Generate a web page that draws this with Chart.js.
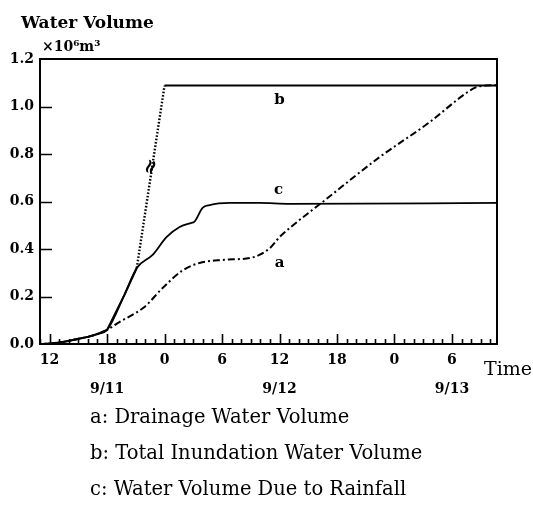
<!DOCTYPE html>
<html>
<head>
<meta charset="utf-8">
<script src="https://cdn.jsdelivr.net/npm/chart.js@4.4.1/dist/chart.umd.min.js"></script>
<style>
  html, body { margin: 0; padding: 0; background: #fff; }
  #wrap { width: 533px; height: 507px; }
</style>
</head>
<body>
<div id="wrap"><canvas id="chart" width="533" height="507"></canvas></div>
<script>
// hours counted from 9/11 0:00
const xTicks = [12, 18, 24, 30, 36, 42, 48, 54];
const xTickLabels = ['12', '18', '0', '6', '12', '18', '0', '6'];
const dateLabels = ['', '9/11', '', '', '9/12', '', '', '9/13'];
const yTicks = [0, 0.2, 0.4, 0.6, 0.8, 1.0, 1.2];

// a: Drainage Water Volume
const drainageHours = [11.3, 12, 13, 14, 15, 16, 17, 18, 19.1, 21.9, 23.8, 25.9, 27.65, 30.05, 32.9, 33.9, 35, 36, 37.05, 40.5, 46.45, 51.7, 55.5, 56.6, 57.6, 58.7];
const drainageVolume = [0, 0.002, 0.006, 0.013, 0.022, 0.03, 0.042, 0.059, 0.088, 0.156, 0.236, 0.31, 0.341, 0.354, 0.362, 0.375, 0.404, 0.45, 0.488, 0.598, 0.787, 0.935, 1.057, 1.082, 1.088, 1.09];

// b: Total Inundation Water Volume
const totalHours = [11.3, 12, 13, 14, 15, 16, 17, 18, 19.8, 21.1, 24.0, 58.7];
const totalVolume = [0, 0.002, 0.006, 0.013, 0.022, 0.03, 0.042, 0.059, 0.206, 0.32, 1.088, 1.088];

// c: Water Volume Due to Rainfall
const rainHours = [11.3, 12, 13, 14, 15, 16, 17, 18, 19.8, 21.1, 22.75, 24.2, 25.57, 26.8, 27.1, 27.97, 28.7, 30.8, 33.9, 37.05, 58.7];
const rainVolume = [0, 0.002, 0.006, 0.013, 0.022, 0.03, 0.042, 0.059, 0.206, 0.32, 0.375, 0.45, 0.493, 0.51, 0.514, 0.573, 0.585, 0.594, 0.594, 0.59, 0.594];

const curveLabels = [
    { text: 'b', x: 36, y: 1.027 },
    { text: 'c', x: 35.9, y: 0.648 },
    { text: 'a', x: 36, y: 0.341 }
];
const legendLines = [
    'a: Drainage Water Volume',
    'b: Total Inundation Water Volume',
    'c: Water Volume Due to Rainfall'
];

const serif = '"DejaVu Serif", "Liberation Serif", serif';

function points(xs, ys) {
    return xs.map((x, i) => ({ x: x, y: ys[i] }));
}

// frame, inward ticks and the texts around the plot
const decorations = {
    id: 'decorations',
    afterDraw(chart) {
        const ctx = chart.ctx;
        const a = chart.chartArea;
        const xs = chart.scales.x;
        const ys = chart.scales.y;
        ctx.save();
        ctx.strokeStyle = '#000';
        ctx.fillStyle = '#000';
        ctx.lineWidth = 2;
        ctx.strokeRect(a.left, a.top, a.right - a.left, a.bottom - a.top);

        ctx.lineWidth = 1.6;
        ctx.beginPath();
        yTicks.forEach(v => {
            if (v <= 0 || v >= 1.2) return;
            const py = Math.round(ys.getPixelForValue(v)) + 0.5;
            ctx.moveTo(a.left, py);
            ctx.lineTo(a.left + 12, py);
        });
        for (let h = Math.ceil(xs.min); h <= Math.floor(xs.max); h++) {
            const px = Math.round(xs.getPixelForValue(h)) + 0.5;
            const len = h % 6 === 0 ? 10 : 5;
            ctx.moveTo(px, a.bottom);
            ctx.lineTo(px, a.bottom - len);
        }
        ctx.stroke();

        ctx.textBaseline = 'middle';
        ctx.textAlign = 'left';
        ctx.font = 'bold 17px ' + serif;
        ctx.fillText('Water Volume', 21, 24);
        ctx.font = 'bold 14px ' + serif;
        ctx.fillText('×10⁶m³', 42, 47);
        ctx.font = '19px ' + serif;
        ctx.fillText('Time', 484, 370);

        ctx.textAlign = 'center';
        ctx.font = 'bold 15px ' + serif;
        curveLabels.forEach(l => {
            ctx.fillText(l.text, xs.getPixelForValue(l.x), ys.getPixelForValue(l.y));
        });

        // break mark on the steep part of b
        ctx.save();
        ctx.translate(xs.getPixelForValue(22.65), ys.getPixelForValue(0.745));
        ctx.rotate(-Math.PI * 0.4);
        ctx.font = 'bold 20px ' + serif;
        ctx.fillText('≈', 0, 0);
        ctx.restore();

        ctx.textAlign = 'left';
        ctx.font = '19.5px ' + serif;
        legendLines.forEach((t, i) => {
            ctx.fillText(t, 90, 418 + i * 36);
        });
        ctx.restore();
    }
};

new Chart(document.getElementById('chart'), {
    type: 'line',
    data: {
        datasets: [
            {
                label: 'a',
                data: points(drainageHours, drainageVolume),
                borderColor: '#000',
                borderWidth: 2,
                borderDash: [7, 3, 2, 3],
                cubicInterpolationMode: 'monotone',
                pointRadius: 0
            },
            {
                label: 'b',
                data: points(totalHours, totalVolume),
                borderColor: '#000',
                borderWidth: 2,
                tension: 0,
                pointRadius: 0,
                segment: {
                    borderDash: c => (c.p0.parsed.x >= 21 && c.p1.parsed.x <= 24.1) ? [1.6, 1.8] : undefined,
                    borderWidth: c => (c.p0.parsed.x >= 21 && c.p1.parsed.x <= 24.1) ? 2.4 : undefined
                }
            },
            {
                label: 'c',
                data: points(rainHours, rainVolume),
                borderColor: '#000',
                borderWidth: 1.8,
                cubicInterpolationMode: 'monotone',
                pointRadius: 0
            }
        ]
    },
    options: {
        responsive: false,
        animation: false,
        layout: { padding: { top: 59, right: 36, bottom: 103, left: 0 } },
        plugins: {
            legend: { display: false },
            tooltip: { enabled: false }
        },
        scales: {
            x: {
                type: 'linear',
                min: 11,
                max: 58.7,
                afterBuildTicks: s => { s.ticks = xTicks.map(v => ({ value: v })); },
                afterFit: s => { s.height = 60; },
                grid: { display: false, drawTicks: false },
                border: { display: false },
                ticks: {
                    autoSkip: false,
                    maxRotation: 0,
                    padding: 2,
                    color: '#000',
                    font: { family: serif, size: 14, weight: 'bold', lineHeight: 2.05 },
                    callback: (v, i) => dateLabels[i] ? [xTickLabels[i], dateLabels[i]] : xTickLabels[i]
                }
            },
            y: {
                min: 0,
                max: 1.2,
                afterBuildTicks: s => { s.ticks = yTicks.map(v => ({ value: v })); },
                afterFit: s => { s.width = 40; },
                grid: { display: false, drawTicks: false },
                border: { display: false },
                ticks: {
                    padding: 6,
                    color: '#000',
                    font: { family: serif, size: 14, weight: 'bold' },
                    callback: v => v.toFixed(1)
                }
            }
        }
    },
    plugins: [decorations]
});
</script>
</body>
</html>
